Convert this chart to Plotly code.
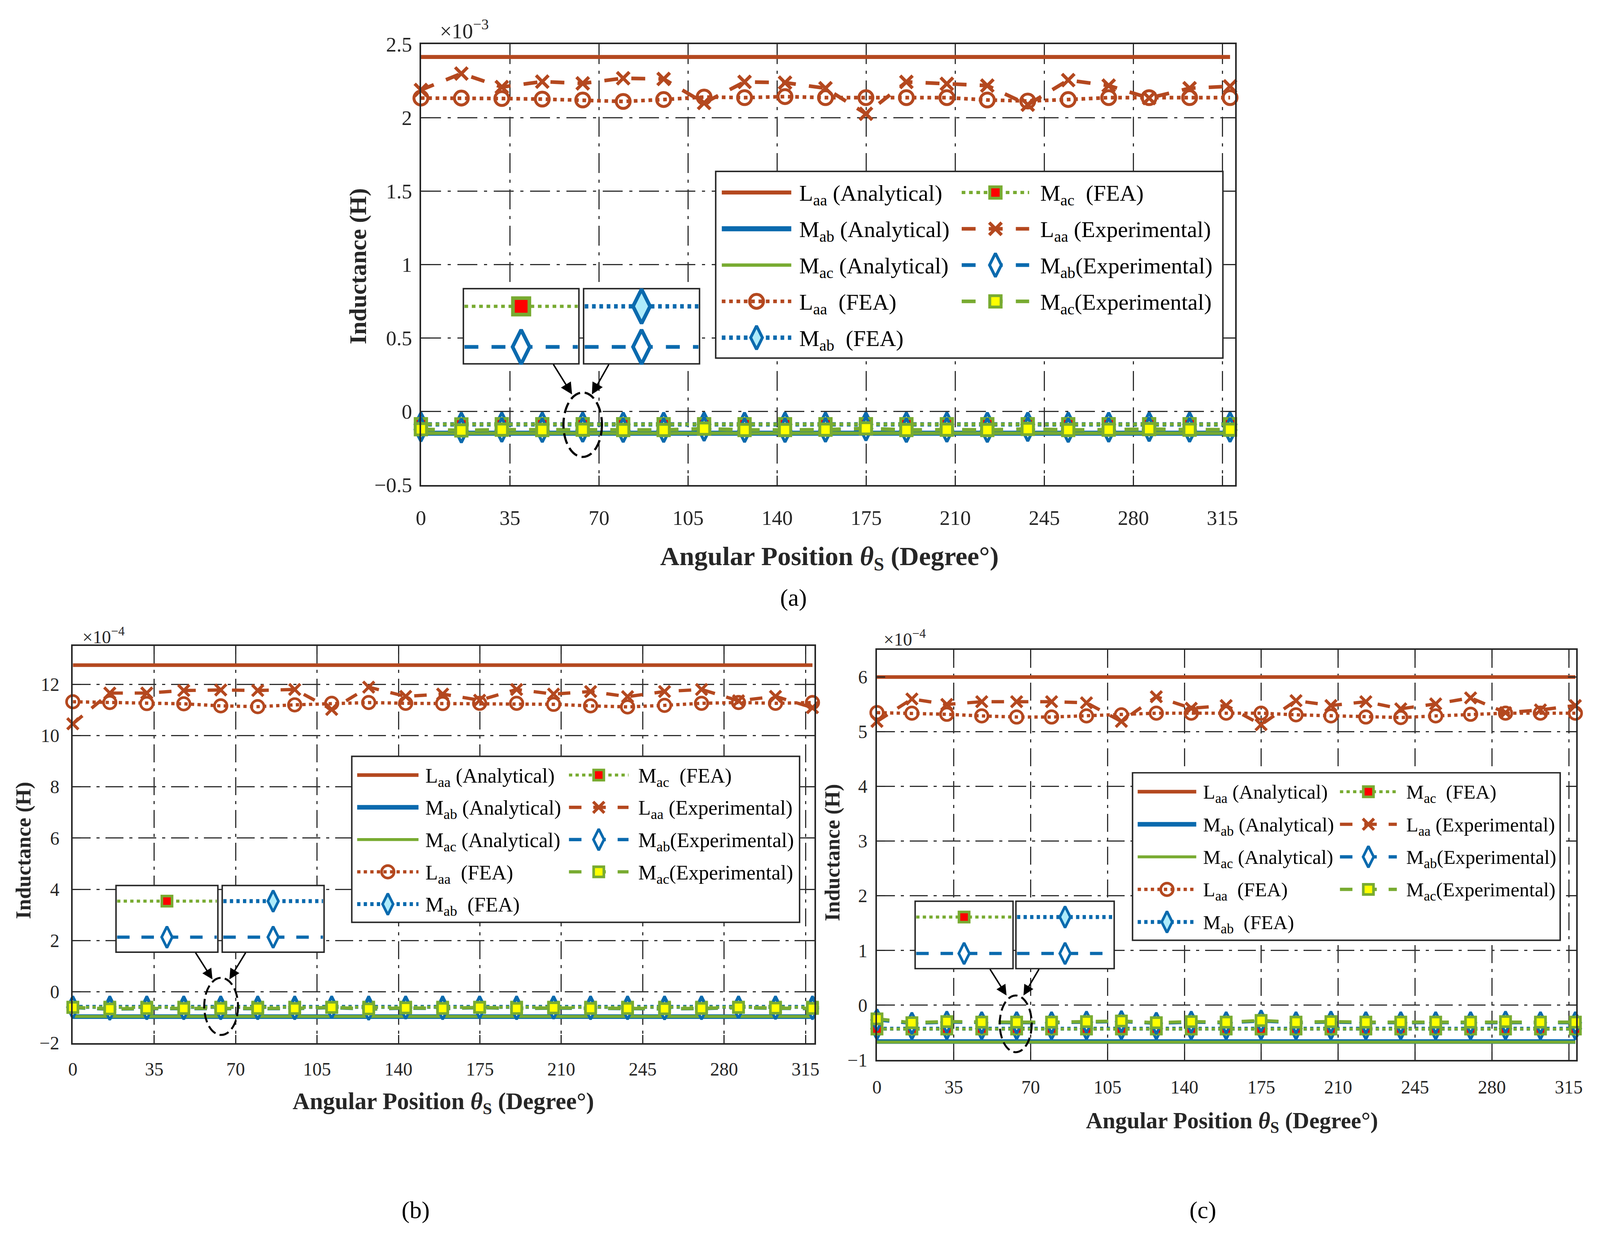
import plotly.graph_objects as go

# Reference frame (pixels of the 4412x3193 reference picture)
W, H = 4412, 3193
EDGE = 8.5            # body margin of the html page, in picture pixels
PX = 0.936            # css px per picture px (measured from the first render)
FONT = "Liberation Serif, DejaVu Serif, Times New Roman, serif"
INK = "#262626"
ORANGE = "#B4481F"
BLUE = "#0A6AAE"
GREEN = "#78AB31"
CYAN = "#AEEBFA"
RED = "#FF0000"
YELLOW = "#FFFF00"

# ------------------------------------------------------------------ data
theta_deg = [0, 15.9, 31.8, 47.7, 63.6, 79.5, 95.4, 111.3, 127.2, 143.1, 159.0,
             174.9, 190.8, 206.7, 222.6, 238.5, 254.4, 270.3, 286.2, 302.1, 318.0]
x_tick_vals = [0, 35, 70, 105, 140, 175, 210, 245, 280, 315]
x_tick_text = ["0", "35", "70", "105", "140", "175", "210", "245", "280", "315"]

# (a) values in 1e-3 H
a_y_tick_vals = [-0.5, 0, 0.5, 1, 1.5, 2, 2.5]
a_y_tick_text = ["−0.5", "0", "0.5", "1", "1.5", "2", "2.5"]
a_laa_ana = [2.413, 2.413, 2.413, 2.413, 2.413, 2.413, 2.413, 2.413, 2.413, 2.413, 2.413,
             2.413, 2.413, 2.413, 2.413, 2.413, 2.413, 2.413, 2.413, 2.413, 2.413]
a_mab_ana = [-0.148, -0.148, -0.148, -0.148, -0.148, -0.148, -0.148, -0.148, -0.148, -0.148, -0.148,
             -0.148, -0.148, -0.148, -0.148, -0.148, -0.148, -0.148, -0.148, -0.148, -0.148]
a_mac_ana = [-0.148, -0.148, -0.148, -0.148, -0.148, -0.148, -0.148, -0.148, -0.148, -0.148, -0.148,
             -0.148, -0.148, -0.148, -0.148, -0.148, -0.148, -0.148, -0.148, -0.148, -0.148]
a_laa_fea = [2.133, 2.133, 2.130, 2.126, 2.120, 2.110, 2.123, 2.140, 2.136, 2.143, 2.136,
             2.136, 2.136, 2.136, 2.120, 2.113, 2.123, 2.136, 2.136, 2.136, 2.136]
a_mab_fea = [-0.088, -0.089, -0.088, -0.088, -0.088, -0.088, -0.088, -0.088, -0.088, -0.088, -0.088,
             -0.088, -0.088, -0.088, -0.088, -0.088, -0.088, -0.088, -0.088, -0.088, -0.088]
a_mac_fea = [-0.087, -0.088, -0.087, -0.087, -0.087, -0.087, -0.087, -0.087, -0.087, -0.087, -0.087,
             -0.087, -0.087, -0.087, -0.087, -0.087, -0.087, -0.087, -0.087, -0.087, -0.087]
a_laa_exp = [2.188, 2.300, 2.208, 2.245, 2.233, 2.268, 2.263, 2.100, 2.243, 2.238, 2.200,
             2.026, 2.243, 2.230, 2.218, 2.088, 2.255, 2.218, 2.133, 2.200, 2.213]
a_mab_exp = [-0.123, -0.131, -0.126, -0.128, -0.126, -0.128, -0.128, -0.119, -0.128, -0.128, -0.126,
             -0.117, -0.128, -0.126, -0.128, -0.121, -0.128, -0.126, -0.122, -0.126, -0.126]
a_mac_exp = [-0.121, -0.129, -0.124, -0.126, -0.124, -0.126, -0.126, -0.117, -0.126, -0.126, -0.124,
             -0.115, -0.126, -0.124, -0.126, -0.119, -0.126, -0.124, -0.120, -0.124, -0.124]

# (b) values in 1e-4 H
b_y_tick_vals = [-2, 0, 2, 4, 6, 8, 10, 12]
b_y_tick_text = ["−2", "0", "2", "4", "6", "8", "10", "12"]
b_laa_ana = [12.75, 12.75, 12.75, 12.75, 12.75, 12.75, 12.75, 12.75, 12.75, 12.75, 12.75,
             12.75, 12.75, 12.75, 12.75, 12.75, 12.75, 12.75, 12.75, 12.75, 12.75]
b_mab_ana = [-0.97, -0.97, -0.97, -0.97, -0.97, -0.97, -0.97, -0.97, -0.97, -0.97, -0.97,
             -0.97, -0.97, -0.97, -0.97, -0.97, -0.97, -0.97, -0.97, -0.97, -0.97]
b_mac_ana = [-0.965, -0.965, -0.965, -0.965, -0.965, -0.965, -0.965, -0.965, -0.965, -0.965, -0.965,
             -0.965, -0.965, -0.965, -0.965, -0.965, -0.965, -0.965, -0.965, -0.965, -0.965]
b_laa_fea = [11.32, 11.29, 11.25, 11.24, 11.16, 11.13, 11.20, 11.26, 11.29, 11.26, 11.25,
             11.26, 11.26, 11.22, 11.16, 11.12, 11.18, 11.26, 11.29, 11.26, 11.29]
b_mab_fea = [-0.59, -0.59, -0.59, -0.59, -0.59, -0.59, -0.59, -0.59, -0.59, -0.59, -0.59,
             -0.59, -0.59, -0.59, -0.59, -0.59, -0.59, -0.59, -0.59, -0.59, -0.59]
b_mac_fea = [-0.60, -0.60, -0.60, -0.60, -0.60, -0.60, -0.60, -0.60, -0.60, -0.60, -0.60,
             -0.60, -0.60, -0.60, -0.60, -0.60, -0.60, -0.60, -0.60, -0.60, -0.60]
b_laa_exp = [10.46, 11.66, 11.66, 11.76, 11.78, 11.76, 11.80, 11.02, 11.89, 11.53, 11.62,
             11.38, 11.80, 11.62, 11.72, 11.52, 11.72, 11.80, 11.36, 11.53, 11.09]
b_mab_exp = [-0.62, -0.68, -0.66, -0.66, -0.66, -0.66, -0.66, -0.62, -0.68, -0.64, -0.66,
             -0.62, -0.66, -0.64, -0.66, -0.66, -0.67, -0.66, -0.62, -0.65, -0.66]
b_mac_exp = [-0.61, -0.67, -0.65, -0.65, -0.65, -0.65, -0.65, -0.61, -0.67, -0.63, -0.65,
             -0.61, -0.65, -0.63, -0.65, -0.65, -0.66, -0.65, -0.61, -0.64, -0.65]

# (c) values in 1e-4 H
c_y_tick_vals = [-1, 0, 1, 2, 3, 4, 5, 6]
c_y_tick_text = ["−1", "0", "1", "2", "3", "4", "5", "6"]
c_laa_ana = [6.0, 6.0, 6.0, 6.0, 6.0, 6.0, 6.0, 6.0, 6.0, 6.0, 6.0,
             6.0, 6.0, 6.0, 6.0, 6.0, 6.0, 6.0, 6.0, 6.0, 6.0]
c_mab_ana = [-0.665, -0.665, -0.665, -0.665, -0.665, -0.665, -0.665, -0.665, -0.665, -0.665, -0.665,
             -0.665, -0.665, -0.665, -0.665, -0.665, -0.665, -0.665, -0.665, -0.665, -0.665]
c_mac_ana = [-0.675, -0.675, -0.675, -0.675, -0.675, -0.675, -0.675, -0.675, -0.675, -0.675, -0.675,
             -0.675, -0.675, -0.675, -0.675, -0.675, -0.675, -0.675, -0.675, -0.675, -0.675]
c_laa_fea = [5.35, 5.34, 5.32, 5.29, 5.27, 5.27, 5.29, 5.31, 5.34, 5.34, 5.34,
             5.34, 5.31, 5.29, 5.27, 5.26, 5.29, 5.32, 5.34, 5.34, 5.34]
c_mab_fea = [-0.43, -0.43, -0.43, -0.43, -0.43, -0.43, -0.43, -0.43, -0.43, -0.43, -0.43,
             -0.43, -0.43, -0.43, -0.43, -0.43, -0.43, -0.43, -0.43, -0.43, -0.43]
c_mac_fea = [-0.435, -0.435, -0.435, -0.435, -0.435, -0.435, -0.435, -0.435, -0.435, -0.435, -0.435,
             -0.435, -0.435, -0.435, -0.435, -0.435, -0.435, -0.435, -0.435, -0.435, -0.435]
c_laa_exp = [5.19, 5.60, 5.50, 5.55, 5.55, 5.55, 5.53, 5.19, 5.64, 5.43, 5.48,
             5.13, 5.57, 5.48, 5.55, 5.42, 5.51, 5.62, 5.35, 5.40, 5.48]
c_mab_exp = [-0.27, -0.33, -0.31, -0.32, -0.32, -0.32, -0.31, -0.30, -0.33, -0.31, -0.32,
             -0.29, -0.32, -0.31, -0.32, -0.32, -0.32, -0.32, -0.31, -0.32, -0.32]
c_mac_exp = [-0.25, -0.32, -0.30, -0.31, -0.31, -0.31, -0.30, -0.29, -0.32, -0.30, -0.31,
             -0.28, -0.31, -0.30, -0.31, -0.31, -0.31, -0.31, -0.30, -0.31, -0.31]

SERIES_KEYS = ["laa_ana", "mab_ana", "mac_ana", "laa_fea", "mab_fea",
               "mac_fea", "laa_exp", "mab_exp", "mac_exp"]
SERIES_LABELS = {
    "laa_ana": "L<sub>aa</sub> (Analytical)",
    "mab_ana": "M<sub>ab</sub> (Analytical)",
    "mac_ana": "M<sub>ac</sub> (Analytical)",
    "laa_fea": "L<sub>aa</sub>  (FEA)",
    "mab_fea": "M<sub>ab</sub>  (FEA)",
    "mac_fea": "M<sub>ac</sub>  (FEA)",
    "laa_exp": "L<sub>aa</sub> (Experimental)",
    "mab_exp": "M<sub>ab</sub>(Experimental)",
    "mac_exp": "M<sub>ac</sub>(Experimental)",
}

# ------------------------------------------------------------------ styles (picture px)
STYLE = {
    "laa_ana": dict(color=ORANGE, dash="solid", width=11),
    "mab_ana": dict(color=BLUE, dash="solid", width=14),
    "mac_ana": dict(color=GREEN, dash="solid", width=9),
    "laa_fea": dict(color=ORANGE, dash="dot", width=10, symbol="circle-open", size=38,
                    fill=ORANGE, edge=ORANGE, edge_w=8),
    "mab_fea": dict(color=BLUE, dash="dot", width=12, symbol="diamond-tall", size=46,
                    fill=CYAN, edge=BLUE, edge_w=8),
    "mac_fea": dict(color=GREEN, dash="dot", width=9, symbol="square", size=31,
                    fill=RED, edge=GREEN, edge_w=8),
    "laa_exp": dict(color=ORANGE, dash="dash", width=10, symbol="x-thin-open", size=34,
                    fill=ORANGE, edge=ORANGE, edge_w=9),
    "mab_exp": dict(color=BLUE, dash="dash", width=10, symbol="diamond-tall", size=46,
                    fill="white", edge=BLUE, edge_w=8),
    "mac_exp": dict(color=GREEN, dash="dash", width=10, symbol="square", size=31,
                    fill=YELLOW, edge=GREEN, edge_w=8),
}


def line_style(key, s):
    st = STYLE[key]
    d = dict(color=st["color"], width=st["width"] * s * PX)
    if st["dash"] == "dot":
        d["dash"] = f"{10 * s * PX:.1f}px,{10 * s * PX:.1f}px"
    elif st["dash"] == "dash":
        d["dash"] = f"{38 * s * PX:.1f}px,{36 * s * PX:.1f}px"
    return d


def marker_style(key, s, k=1.0):
    st = STYLE[key]
    return dict(symbol=st["symbol"], size=st["size"] * s * k * PX, color=st["fill"],
                line=dict(color=st["edge"], width=st["edge_w"] * s * min(k, 1.25) * PX))


PANELS = [
    dict(n="", label="(a)", exponent="×10<sup>−3</sup>",
         data=dict(laa_ana=a_laa_ana, mab_ana=a_mab_ana, mac_ana=a_mac_ana,
                   laa_fea=a_laa_fea, mab_fea=a_mab_fea, mac_fea=a_mac_fea,
                   laa_exp=a_laa_exp, mab_exp=a_mab_exp, mac_exp=a_mac_exp),
         yticks=(a_y_tick_vals, a_y_tick_text),
         plot=(1155, 86, 3417, 1236), xrange=[0, 320], yrange=[-0.5, 2.5],
         s=1.0, k_inset=1.45, tick_font=57, leg_font=62, xtitle_font=73, ytitle_font=66,
         exp_font=58, label_font=66,
         legend_box=(1974, 418, 3383, 905),
         insets=[(1273, 724, 1594, 920), (1607, 724, 1929, 920)],
         ellipse=(1551, 995, 1658, 1163),
         arrows=[((1522, 920), (1575, 1000)), ((1678, 920), (1630, 1000))],
         xtitle_pos=(2290, 1426), ytitle_pos=(980, 665), exp_pos=(1205, 48),
         label_pos=(2190, 1530), xstand=34, ystand=8),
    dict(n="2", label="(b)", exponent="×10<sup>−4</sup>",
         data=dict(laa_ana=b_laa_ana, mab_ana=b_mab_ana, mac_ana=b_mac_ana,
                   laa_fea=b_laa_fea, mab_fea=b_mab_fea, mac_fea=b_mac_fea,
                   laa_exp=b_laa_exp, mab_exp=b_mab_exp, mac_exp=b_mac_exp),
         yticks=(b_y_tick_vals, b_y_tick_text),
         plot=(188, 1656, 2248, 2692), xrange=[0, 318.8], yrange=[-2, 13.5],
         s=0.9, k_inset=1.0, tick_font=51, leg_font=56, xtitle_font=65, ytitle_font=58,
         exp_font=50, label_font=66,
         legend_box=(963, 1944, 2207, 2377),
         insets=[(308, 2281, 591, 2455), (603, 2281, 886, 2455)],
         ellipse=(553, 2522, 647, 2671),
         arrows=[((528, 2455), (576, 2526)), ((669, 2455), (623, 2526))],
         xtitle_pos=(1217, 2848), ytitle_pos=(51, 2190), exp_pos=(212, 1629),
         label_pos=(1140, 3128), xstand=22, ystand=21),
    dict(n="3", label="(c)", exponent="×10<sup>−4</sup>",
         data=dict(laa_ana=c_laa_ana, mab_ana=c_mab_ana, mac_ana=c_mac_ana,
                   laa_fea=c_laa_fea, mab_fea=c_mab_fea, mac_fea=c_mac_fea,
                   laa_exp=c_laa_exp, mab_exp=c_mab_exp, mac_exp=c_mac_exp),
         yticks=(c_y_tick_vals, c_y_tick_text),
         plot=(2422, 1666, 4364, 2736), xrange=[0, 318.3], yrange=[-1, 6.5],
         s=0.9, k_inset=1.0, tick_font=51, leg_font=54, xtitle_font=63, ytitle_font=58,
         exp_font=50, label_font=66,
         legend_box=(3132, 1987, 4320, 2424),
         insets=[(2528, 2322, 2800, 2498), (2808, 2322, 3081, 2498)],
         ellipse=(2763, 2568, 2852, 2716),
         arrows=[((2735, 2498), (2782, 2568)), ((2873, 2498), (2829, 2568))],
         xtitle_pos=(3408, 2898), ytitle_pos=(2298, 2195), exp_pos=(2438, 1635),
         label_pos=(3328, 3128), xstand=25, ystand=11),
]

# legend layout (fractions of the legend box)
LEG_ROW0, LEG_ROWSTEP, LEG_ROWS = 0.113, 0.1944, 5
LEG_COLS = [dict(l0=0.012, l1=0.149, m=0.0805, t=0.163),
            dict(l0=0.485, l1=0.618, m=0.5515, t=0.638)]
INSET_ROWS = (0.235, 0.775)
INSET_PAIRS = [("mac_fea", "mab_exp"), ("mab_fea", "mab_exp")]


def paper_x(px):
    return (px - EDGE) / (W - 2 * EDGE)


def paper_y(py):
    return 1 - (py - EDGE) / (H - 2 * EDGE)


fig = go.Figure()
shapes, annotations = [], []
layout = {}

for p in PANELS:
    n = p["n"]
    xid, yid = "x" + n, "y" + n
    L, T, R, B = p["plot"]
    xr, yr = p["xrange"], p["yrange"]
    s = p["s"]

    def dx(px, L=L, R=R, xr=xr):
        return xr[0] + (px - L) / (R - L) * (xr[1] - xr[0])

    def dy(py, T=T, B=B, yr=yr):
        return yr[1] - (py - T) / (B - T) * (yr[1] - yr[0])

    gd = f"{55 * s * PX:.0f}px,{18 * s * PX:.0f}px,{9 * s * PX:.0f}px,{18 * s * PX:.0f}px"
    grid = dict(showgrid=True, gridcolor="#303030", gridwidth=3 * PX, griddash=gd,
                zeroline=False, showline=True, linecolor=INK, linewidth=4 * PX,
                mirror="ticks", ticks="inside", ticklen=int(26 * s * PX), tickwidth=3 * PX,
                tickcolor=INK, tickfont=dict(family=FONT, size=p["tick_font"] * PX, color=INK),
                fixedrange=True)
    layout["xaxis" + n] = dict(domain=[paper_x(L), paper_x(R)], range=xr, anchor=yid,
                               tickmode="array", tickvals=x_tick_vals, ticktext=x_tick_text,
                               ticklabelstandoff=p["xstand"], **grid)
    layout["yaxis" + n] = dict(domain=[paper_y(B), paper_y(T)], range=yr, anchor=xid,
                               tickmode="array", tickvals=p["yticks"][0], ticktext=p["yticks"][1],
                               ticklabelstandoff=p["ystand"], **grid)

    # ---- data series
    for key in SERIES_KEYS:
        st = STYLE[key]
        has_m = "symbol" in st
        fig.add_trace(go.Scatter(
            x=theta_deg, y=p["data"][key], mode="lines+markers" if has_m else "lines",
            line=line_style(key, s), marker=marker_style(key, s) if has_m else None,
            xaxis=xid, yaxis=yid, cliponaxis=False, showlegend=False, hoverinfo="skip"))

    # ---- legend box + entries
    bx0, by0, bx1, by1 = p["legend_box"]
    shapes.append(dict(type="rect", xref=xid, yref=yid, x0=dx(bx0), x1=dx(bx1),
                       y0=dy(by0), y1=dy(by1), fillcolor="white",
                       line=dict(color=INK, width=4 * PX), layer="between"))
    for i, key in enumerate(SERIES_KEYS):
        col = LEG_COLS[i // LEG_ROWS]
        fy = LEG_ROW0 + (i % LEG_ROWS) * LEG_ROWSTEP
        py = by0 + fy * (by1 - by0)
        lx0 = bx0 + col["l0"] * (bx1 - bx0)
        lx1 = bx0 + col["l1"] * (bx1 - bx0)
        mx = bx0 + col["m"] * (bx1 - bx0)
        tx = bx0 + col["t"] * (bx1 - bx0)
        fig.add_trace(go.Scatter(x=[dx(lx0), dx(lx1)], y=[dy(py), dy(py)], mode="lines",
                                 line=line_style(key, s), xaxis=xid, yaxis=yid,
                                 showlegend=False, hoverinfo="skip"))
        if "symbol" in STYLE[key]:
            fig.add_trace(go.Scatter(x=[dx(mx)], y=[dy(py)], mode="markers",
                                     marker=marker_style(key, s), xaxis=xid, yaxis=yid,
                                     cliponaxis=False, showlegend=False, hoverinfo="skip"))
        annotations.append(dict(xref=xid, yref=yid, x=dx(tx), y=dy(py), text=SERIES_LABELS[key],
                                showarrow=False, xanchor="left", yanchor="middle",
                                yshift=-0.1 * p["leg_font"] * PX,
                                font=dict(family=FONT, size=p["leg_font"] * PX, color="black")))

    # ---- zoom insets
    for (ix0, iy0, ix1, iy1), pair in zip(p["insets"], INSET_PAIRS):
        shapes.append(dict(type="rect", xref=xid, yref=yid, x0=dx(ix0), x1=dx(ix1),
                           y0=dy(iy0), y1=dy(iy1), fillcolor="white",
                           line=dict(color=INK, width=4 * PX), layer="between"))
        for frac, key in zip(INSET_ROWS, pair):
            py = iy0 + frac * (iy1 - iy0)
            fig.add_trace(go.Scatter(x=[dx(ix0 + 3), dx(ix1 - 3)], y=[dy(py), dy(py)],
                                     mode="lines", line=line_style(key, s),
                                     xaxis=xid, yaxis=yid, showlegend=False, hoverinfo="skip"))
            fig.add_trace(go.Scatter(x=[dx((ix0 + ix1) / 2)], y=[dy(py)], mode="markers",
                                     marker=marker_style(key, s, p["k_inset"]),
                                     xaxis=xid, yaxis=yid, cliponaxis=False,
                                     showlegend=False, hoverinfo="skip"))

    # ---- ellipse + arrows
    ex0, ey0, ex1, ey1 = p["ellipse"]
    shapes.append(dict(type="circle", xref=xid, yref=yid, x0=dx(ex0), x1=dx(ex1),
                       y0=dy(ey0), y1=dy(ey1),
                       line=dict(color="black", width=6 * s * PX,
                                 dash=f"{30 * s * PX:.0f}px,{13 * s * PX:.0f}px"), layer="above"))
    for (tx_, ty_), (hx, hy) in p["arrows"]:
        annotations.append(dict(xref=xid, yref=yid, axref=xid, ayref=yid,
                                x=dx(hx), y=dy(hy), ax=dx(tx_), ay=dy(ty_), text="",
                                showarrow=True, arrowhead=2, arrowsize=1.6 * s,
                                arrowwidth=4 * PX, arrowcolor="black", standoff=0))

    # ---- titles, exponent, panel label
    annotations.append(dict(xref="paper", yref="paper", x=paper_x(p["xtitle_pos"][0]),
                            y=paper_y(p["xtitle_pos"][1]), showarrow=False,
                            xanchor="center", yanchor="middle",
                            text="<b>Angular Position <i>θ</i><sub>S</sub> (Degree°)</b>",
                            font=dict(family=FONT, size=p["xtitle_font"] * PX, color=INK)))
    annotations.append(dict(xref="paper", yref="paper", x=paper_x(p["ytitle_pos"][0]),
                            y=paper_y(p["ytitle_pos"][1]), showarrow=False, textangle=-90,
                            xanchor="center", yanchor="middle", text="<b>Inductance (H)</b>",
                            font=dict(family=FONT, size=p["ytitle_font"] * PX, color=INK)))
    annotations.append(dict(xref="paper", yref="paper", x=paper_x(p["exp_pos"][0]),
                            y=paper_y(p["exp_pos"][1]), showarrow=False,
                            xanchor="left", yanchor="middle", text=p["exponent"],
                            font=dict(family=FONT, size=p["exp_font"] * PX, color=INK)))
    annotations.append(dict(xref="paper", yref="paper", x=paper_x(p["label_pos"][0]),
                            y=paper_y(p["label_pos"][1]), showarrow=False,
                            xanchor="center", yanchor="middle", text=p["label"],
                            font=dict(family=FONT, size=p["label_font"] * PX, color="black")))

# The figure fills the browser window (autosize); all positions are fractions of it.
fig.update_layout(autosize=True, margin=dict(l=0, r=0, t=0, b=0),
                  paper_bgcolor="white", plot_bgcolor="white", showlegend=False,
                  font=dict(family=FONT, color=INK),
                  shapes=shapes, annotations=annotations, **layout)

fig.write_html("out.html")
